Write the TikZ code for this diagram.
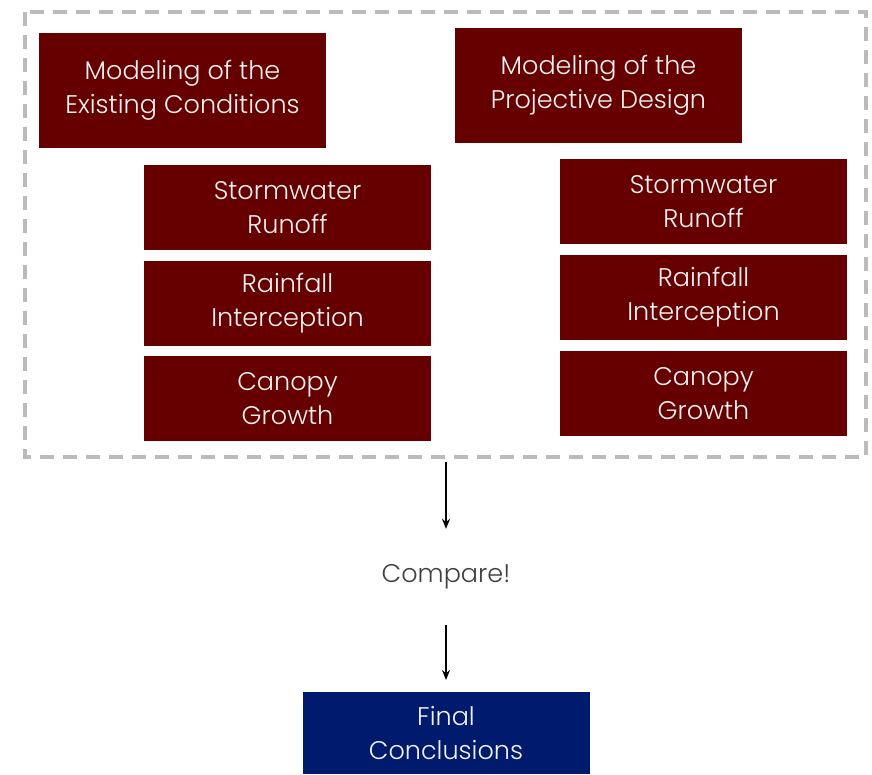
\documentclass[tikz,border=0pt]{standalone}
\usepackage{fontspec}
\setmainfont{Poppins}[UprightFont=* Light]
\usetikzlibrary{arrows.meta}
\definecolor{boxred}{HTML}{660000}
\definecolor{boxblue}{HTML}{001A6E}
\definecolor{framegray}{HTML}{BBBBBB}
\tikzset{
  redbox/.style={fill=boxred,text=white!95!black,minimum width=287pt,minimum height=85pt,
    align=center,font=\fontsize{25.5}{34}\selectfont,inner sep=0pt},
  bluebox/.style={redbox,fill=boxblue},
}
\begin{document}
\begin{tikzpicture}[x=1pt,y=-1pt]
\useasboundingbox (0,0) rectangle (872,774);
\draw [framegray,line width=3.5pt,dash pattern=on 14pt off 9pt] (25,12) rectangle (866,457);
\coordinate (framebot) at (446,457);
\node [redbox,minimum height=115pt] (existing) at (182.5,90.5) {Modeling of the\\Existing Conditions};
\node [redbox,minimum height=115pt] (projective) at (598.5,85.5) {Modeling of the\\Projective Design};
\node [redbox] (runoffL) at (287.5,207.5) {Stormwater\\Runoff};
\node [redbox] (rainL) at (287.5,303.5) {Rainfall\\Interception};
\node [redbox] (canopyL) at (287.5,398.5) {Canopy\\Growth};
\node [redbox] (runoffR) at (703.5,201.5) {Stormwater\\Runoff};
\node [redbox] (rainR) at (703.5,297.5) {Rainfall\\Interception};
\node [redbox] (canopyR) at (703.5,393.5) {Canopy\\Growth};
\node [text=black!75,font=\fontsize{25.5}{34}\selectfont,minimum height=96pt] (compare) at (446,577) {Compare!};
\node [bluebox,minimum height=82pt,anchor=north] (final) at (446,692) {Final\\Conclusions};
\draw [-{Stealth[length=10pt,width=8pt]},line width=1.8pt,shorten <=5pt] (framebot) -- (compare);
\draw [-{Stealth[length=10pt,width=8pt]},line width=1.8pt,shorten >=12pt] (compare) -- (final);
\end{tikzpicture}
\end{document}
